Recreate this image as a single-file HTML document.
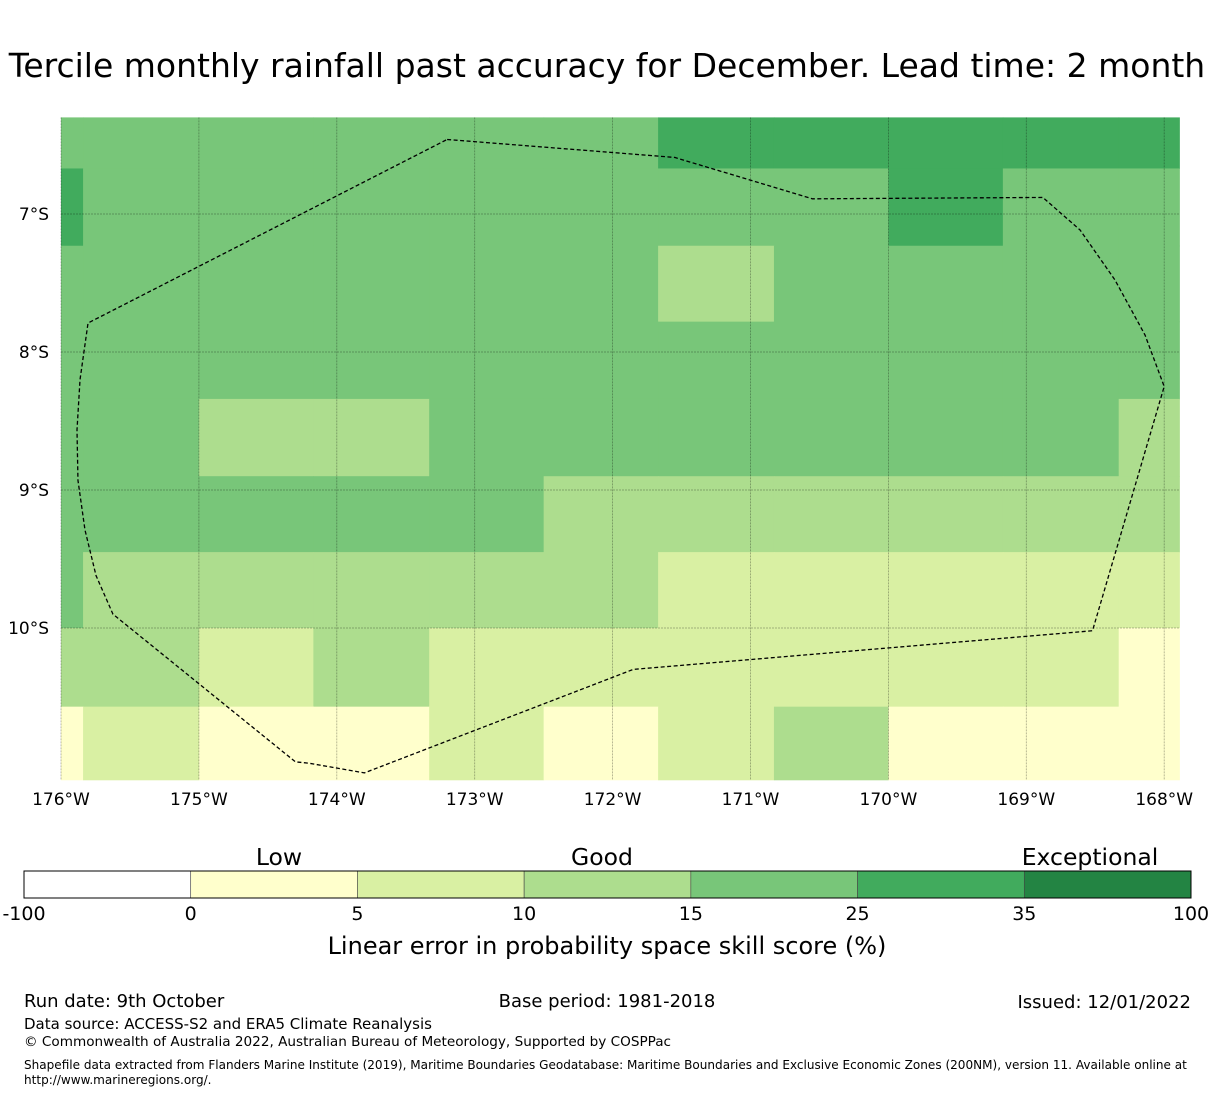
<!DOCTYPE html>
<html><head><meta charset="utf-8"><style>
body{margin:0;background:#fff;font-family:"Liberation Sans","DejaVu Sans",sans-serif;}
svg{display:block}
</style></head><body>
<svg id="s" width="1215" height="1095">
<text x="607" y="77" font-size="33" text-anchor="middle" font-family="DejaVu Sans, sans-serif">Tercile monthly rainfall past accuracy for December. Lead time: 2 month</text>
<g id="map"></g>
<g id="cb"></g>
<g font-family="DejaVu Sans, sans-serif" fill="#000">
<text x="24" y="1007" font-size="18">Run date: 9th October</text>
<text x="607" y="1007" font-size="18" text-anchor="middle">Base period: 1981-2018</text>
<text x="1191" y="1008" font-size="18" text-anchor="end">Issued: 12/01/2022</text>
<text x="24" y="1029" font-size="15">Data source: ACCESS-S2 and ERA5 Climate Reanalysis</text>
<text x="24" y="1046" font-size="13.6">© Commonwealth of Australia 2022, Australian Bureau of Meteorology, Supported by COSPPac</text>
<text x="24" y="1069" font-size="12.05">Shapefile data extracted from Flanders Marine Institute (2019), Maritime Boundaries Geodatabase: Maritime Boundaries and Exclusive Economic Zones (200NM), version 11. Available online at</text>
<text x="24" y="1084" font-size="12.05">http://www.marineregions.org/.</text>
</g>
</svg>
<script>
const colors=["#ffffff","#ffffcc","#d9f0a3","#addd8e","#78c679","#41ab5d","#238443"];
const colEdges=[-176,-175.84,-175.0,-174.17,-173.33,-172.5,-171.67,-170.83,-170.0,-169.17,-168.33,-167.89];
const rowEdges=[-6.3,-6.67,-7.23,-7.78,-8.34,-8.9,-9.45,-10.0,-10.57,-11.1];
const grid=[
[4,4,4,4,4,4,5,5,5,5,5],
[5,4,4,4,4,4,4,4,5,4,4],
[4,4,4,4,4,4,3,4,4,4,4],
[4,4,4,4,4,4,4,4,4,4,4],
[4,4,3,3,4,4,4,4,4,4,3],
[4,4,4,4,4,3,3,3,3,3,3],
[4,3,3,3,3,3,2,2,2,2,2],
[3,3,2,3,2,2,2,2,2,2,1],
[1,2,1,1,2,1,2,3,1,1,1]];
const lonTicks=[-176,-175,-174,-173,-172,-171,-170,-169,-168];
const latTicks=[-7,-8,-9,-10];
const eez=[[-173.2,-6.46],[-171.55,-6.59],[-170.55,-6.89],[-168.88,-6.88],[-168.61,-7.116],[-168.357,-7.478],[-168.139,-7.877],[-168.0,-8.25],[-168.52,-10.02],[-171.85,-10.3],[-173.8,-11.05],[-174.2,-10.98],[-174.3,-10.97],[-175.623,-9.9],[-175.746,-9.62],[-175.826,-9.29],[-175.877,-8.93],[-175.884,-8.565],[-175.862,-8.2],[-175.804,-7.79],[-173.2,-6.46]];
const cbBounds=["-100","0","5","10","15","25","35","100"];
const X=l=>61+(l+176)*137.9, Y=l=>214+(-7-l)*138;
const NS="http://www.w3.org/2000/svg";
function mk(t,a,p){const e=document.createElementNS(NS,t);for(const k in a)e.setAttribute(k,a[k]);p.appendChild(e);return e;}
const map=document.getElementById('map');
grid.forEach((row,r)=>row.forEach((v,c)=>{
 const x0=X(colEdges[c]),x1=X(colEdges[c+1]),y0=Y(rowEdges[r]),y1=Y(rowEdges[r+1]);
 const e=mk('rect',{x:x0,y:y0,width:x1-x0+0.5,height:y1-y0+0.5,fill:colors[v]},map);
 
 
}));
const L=X(colEdges[0]),R=X(colEdges[11]),T=Y(rowEdges[0]),B=Y(rowEdges[9]);
lonTicks.forEach(l=>{
 const g=mk('line',{x1:X(l),x2:X(l),y1:T,y2:B,stroke:'#000','stroke-opacity':0.35,'stroke-width':0.8,'stroke-dasharray':'2,1'},map);
 
 
 const t=mk('text',{x:X(l),y:805,'font-size':17,'text-anchor':'middle','font-family':'DejaVu Sans, sans-serif'},map);
 t.textContent=(-l)+'°W';
 
 
});
latTicks.forEach(l=>{
 const g=mk('line',{x1:L,x2:R,y1:Y(l),y2:Y(l),stroke:'#000','stroke-opacity':0.35,'stroke-width':0.8,'stroke-dasharray':'2,1'},map);
 
 
 const t=mk('text',{x:49,y:Y(l)+6,'font-size':17,'text-anchor':'end','font-family':'DejaVu Sans, sans-serif'},map);
 t.textContent=(-l)+'°S';
 
 
});
const p=mk('polyline',{points:eez.map(q=>X(q[0])+','+Y(q[1])).join(' '),fill:'none',stroke:'#000','stroke-width':1.3,'stroke-dasharray':'4,2.5','stroke-linejoin':'round'},map);


const cb=document.getElementById('cb');
const cw=(1191-24)/7;
for(let i=0;i<7;i++){
 const e=mk('rect',{x:24+i*cw,y:871,width:cw,height:27,fill:colors[i],stroke:'#444','stroke-width':0.6},cb);
 
 
}
mk('rect',{x:24,y:871,width:1167,height:27,fill:'none',stroke:'#000','stroke-width':1},cb);
cbBounds.forEach((b,i)=>{
 const t=mk('text',{x:24+i*cw,y:920,'font-size':19,'text-anchor':'middle','font-family':'DejaVu Sans, sans-serif'},cb);
 t.textContent=b;
 
 
});
[["Low",279],["Good",602],["Exceptional",1090]].forEach(a=>{
 const t=mk('text',{x:a[1],y:865,'font-size':23.5,'text-anchor':'middle','font-family':'DejaVu Sans, sans-serif'},cb);
 t.textContent=a[0];
 
 
});
const ct=mk('text',{x:607,y:954,'font-size':24,'text-anchor':'middle','font-family':'DejaVu Sans, sans-serif'},cb);
ct.textContent='Linear error in probability space skill score (%)';


</script>
</body></html>
